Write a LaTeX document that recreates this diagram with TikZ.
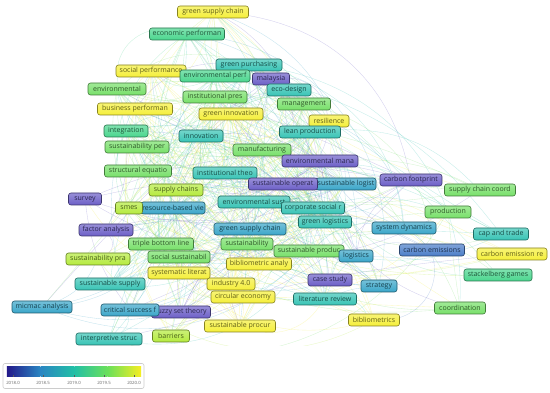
\documentclass[tikz,border=0pt]{standalone}
\usepackage{fontspec}
\setmainfont{Open Sans}
\usetikzlibrary{backgrounds}
\pgfdeclarelayer{bgfill}
\pgfdeclarelayer{background}
\pgfsetlayers{bgfill,background,main}
\definecolor{cP}{HTML}{6C5FC7}
\definecolor{cB}{HTML}{4A7DC8}
\definecolor{cTB}{HTML}{3AA6C9}
\definecolor{cT}{HTML}{38C4B5}
\definecolor{cGT}{HTML}{4AD68E}
\definecolor{cG}{HTML}{78E06A}
\definecolor{cYG}{HTML}{B5EB3E}
\definecolor{cY}{HTML}{F5EF3A}
\definecolor{v0}{HTML}{23198A}
\definecolor{v1}{HTML}{2A86C2}
\definecolor{v2}{HTML}{22BFA6}
\definecolor{v3}{HTML}{6BE05A}
\definecolor{v4}{HTML}{F7EE22}
\tikzset{
  box/.style={rounded corners=2.5pt, draw=#1!55!black, line width=0.6pt,
    top color=#1!70!white, bottom color=#1, text=#1!40!black,
    minimum height=12pt, inner sep=0pt, font=\fontsize{7}{7}\selectfont},
  edge/.style={draw=#1, opacity=0.3, line width=0.35pt},
  tick/.style={font=\fontsize{4.3}{5}\selectfont, text=gray!80!black, inner sep=0pt}
}
\begin{document}
\begin{tikzpicture}[x=1pt,y=1pt]
\useasboundingbox (0,0) rectangle (550,-393);
\begin{pgfonlayer}{bgfill}
\fill[white] (0,0) rectangle (550,-393);
\end{pgfonlayer}
\foreach \id/\x/\y/\w/\col/\wt/\txt in {
 1/213/12/71/cY/0.75/green supply chain,
 2/187/34/75/cGT/0.85/economic performan,
 3/249/65/66/cT/1/green purchasing,
 4/151/71/70/cY/0.8/social performance,
 5/215/76/70/cGT/1/environmental perf,
 6/271/79/37/cP/0.7/malaysia,
 7/289/90/44/cT/0.9/eco-design,
 8/117/89/58/cG/0.7/environmental,
 9/215/97/64/cG/1/institutional pres,
 10/304/104/53/cG/0.8/management,
 11/135/109/75/cY/0.75/business performan,
 12/231/114/64/cY/1/green innovation,
 13/329/121/40/cY/0.7/resilience,
 14/310/132/61/cT/0.9/lean production,
 15/126/131/44/cGT/0.8/integration,
 16/201/136/44/cT/1/innovation,
 17/137/147/64/cG/0.9/sustainability per,
 18/262/150/58/cG/1/manufacturing,
 19/320/161/76/cP/0.9/environmental mana,
 20/138/171/67/cG/0.8/structural equatio,
 21/225/173/64/cT/1/institutional theo,
 22/346/184/60/cTB/0.8/sustainable logist,
 23/283/184/69/cP/1/sustainable operat,
 24/411/180/62/cP/0.5/carbon footprint,
 25/480/190/71/cG/0.45/supply chain coord,
 26/176/190/54/cYG/1/supply chains,
 27/85/199/33/cP/0.4/survey,
 28/173/208/64/cTB/0.9/resource-based vie,
 29/129/208/27/cYG/0.8/smes,
 30/254/202/72/cT/1/environmental sust,
 31/313/208/63/cT/1/corporate social r,
 32/448/212/46/cG/0.45/production,
 33/325/222/53/cT/0.9/green logistics,
 34/250/229/72/cTB/1/green supply chain,
 35/404/228/64/cTB/0.55/system dynamics,
 36/106/230/54/cP/0.4/factor analysis,
 37/161/244/65/cG/0.9/triple bottom line,
 38/247/244/52/cG/1/sustainability,
 39/501/234/55/cT/0.45/cap and trade,
 40/309/251/70/cG/1/sustainable produc,
 41/356/256/34/cTB/0.8/logistics,
 42/432/250/65/cB/0.5/carbon emissions,
 43/512/254/70/cY/0.45/carbon emission re,
 44/98/259/64/cYG/0.8/sustainability pra,
 45/179/257/62/cG/0.9/social sustainabil,
 46/259/264/65/cY/1/bibliometric analy,
 47/498/275/68/cGT/0.4/stackelberg games,
 48/179/273/62/cY/0.9/systematic literat,
 49/231/284/48/cY/0.9/industry 4.0,
 50/330/280/44/cP/0.8/case study,
 51/379/286/36/cTB/0.6/strategy,
 52/110/284/70/cT/0.7/sustainable supply,
 53/243/297/64/cY/0.9/circular economy,
 54/325/299/63/cT/0.8/literature review,
 55/42/307/60/cTB/0.4/micmac analysis,
 56/181/312/59/cP/0.6/fuzzy set theory,
 57/130/310/58/cTB/0.6/critical success f,
 58/460/308/51/cG/0.4/coordination,
 59/240/326/71/cY/0.8/sustainable procur,
 60/374/320/51/cY/0.6/bibliometrics,
 61/109/339/66/cT/0.5/interpretive struc,
 62/171/336/37/cYG/0.6/barriers}{
  \node[box=\col, minimum width=\w] (n\id) at (\x,-\y) {\txt};
  \expandafter\xdef\csname nw\id\endcsname{\wt}
  \expandafter\xdef\csname nc\id\endcsname{\col}
}
\begin{pgfonlayer}{background}
\begin{scope}
  \clip (3,0) rectangle (550,-346);
  \pgfmathsetseed{4242}
  \foreach \i in {1,...,61}{
    \pgfmathtruncatemacro\s{\i+1}
    \foreach \j in {\s,...,62}{
      \pgfmathsetmacro\pr{0.5*(\csname nw\i\endcsname*\csname nw\j\endcsname)^1.5}
      \pgfmathsetmacro\r{rnd}
      \ifdim\r pt<\pr pt
        \pgfmathsetmacro\b{rand*45}
        \pgfmathsetmacro\c{rnd}
        \ifdim\c pt<0.5pt \edef\ec{\csname nc\i\endcsname}\else\edef\ec{\csname nc\j\endcsname}\fi
        \draw[edge=\ec] (n\i) to[bend left=\b] (n\j);
      \fi
    }
  }
\end{scope}
\end{pgfonlayer}
% colour bar
\node[draw=gray!40, rounded corners=2pt, line width=0.6pt, minimum width=141pt, minimum height=25pt, inner sep=0pt] (legend) at (73.5,-376) {};
\node[minimum width=33.25pt, minimum height=10pt, inner sep=0pt, left color=v0, right color=v1] (b1) at (23.6,-372) {};
\node[minimum width=33.25pt, minimum height=10pt, inner sep=0pt, left color=v1, right color=v2, anchor=west] (b2) at (b1.east) {};
\node[minimum width=33.25pt, minimum height=10pt, inner sep=0pt, left color=v2, right color=v3, anchor=west] (b3) at (b2.east) {};
\node[minimum width=33.25pt, minimum height=10pt, inner sep=0pt, left color=v3, right color=v4, anchor=west] (b4) at (b3.east) {};
\foreach \t/\x in {2018.0/13,2018.5/43,2019.0/74,2019.5/104,2020.0/134}{
  \draw[gray!70!black, line width=0.3pt] (\x,-375.5) -- (\x,-377);
  \node[tick] (t\x) at (\x,-382.5) {\t};
}
\end{tikzpicture}
\end{document}
